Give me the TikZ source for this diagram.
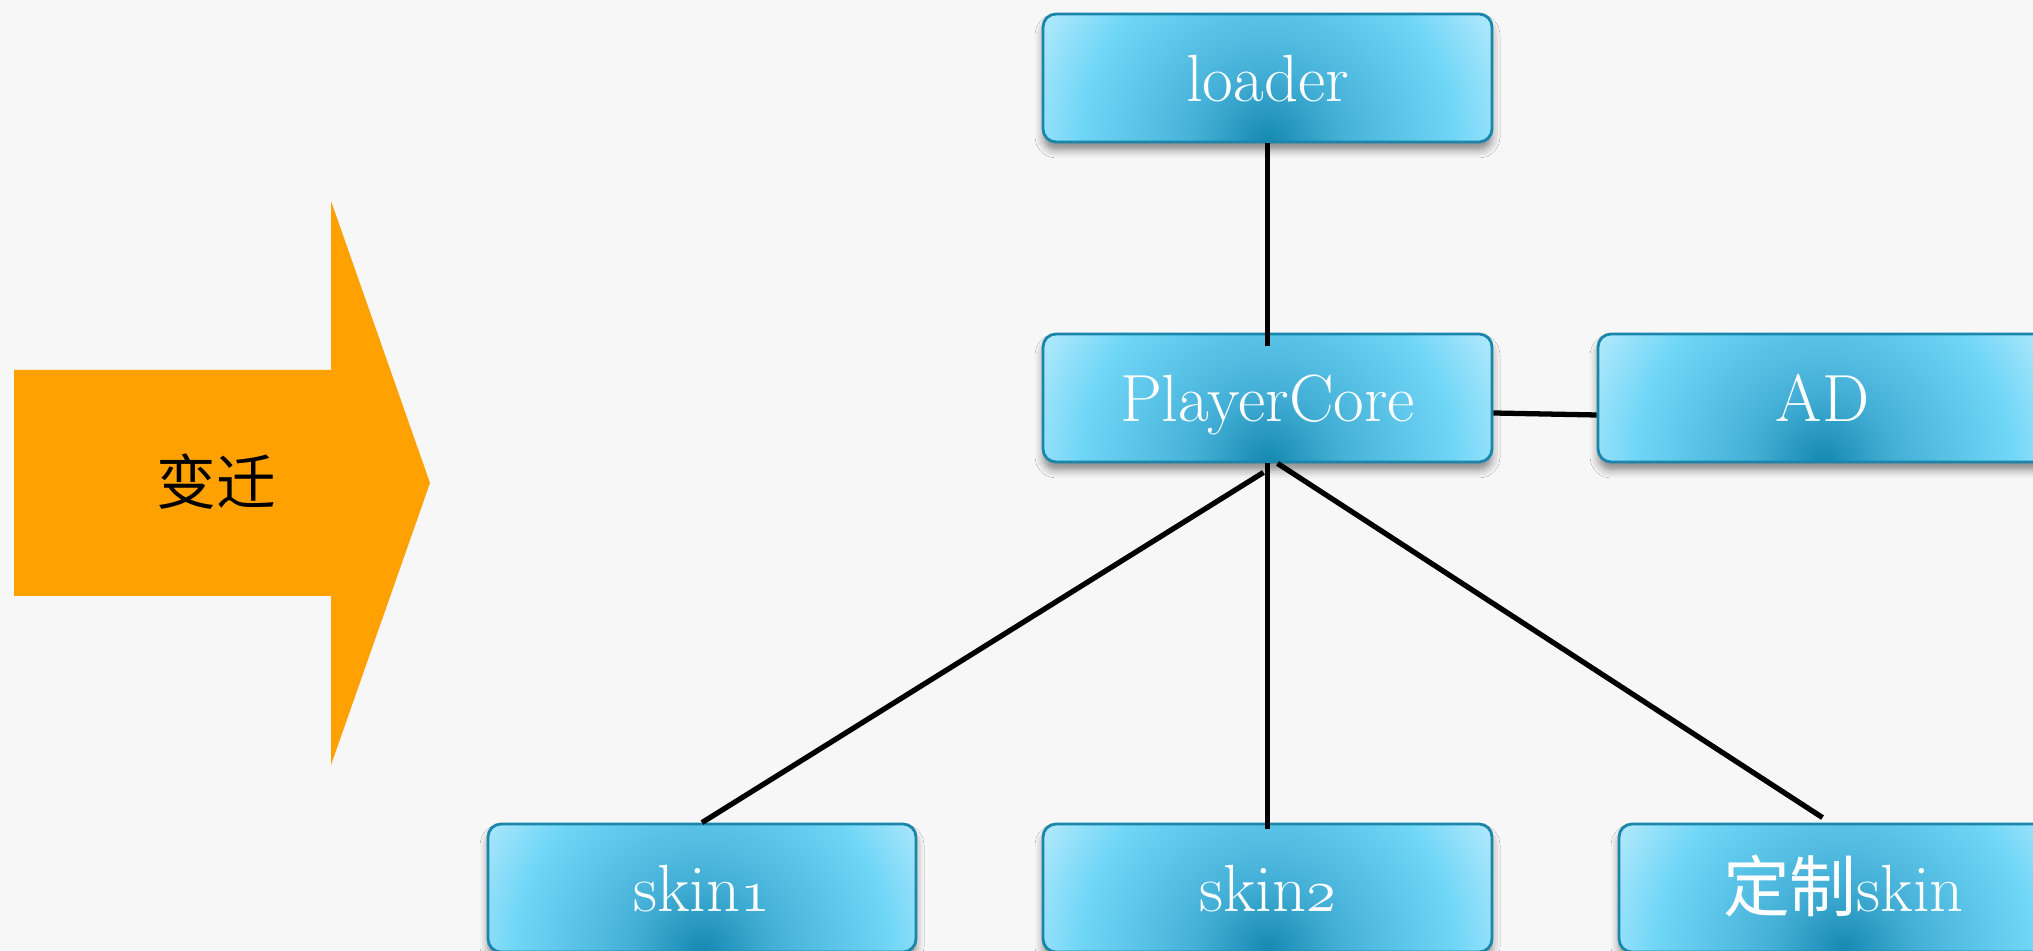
\documentclass[tikz,border=0pt]{standalone}
\usepackage{fontspec}
\newfontfamily\cjk{Noto Sans CJK SC}
\usetikzlibrary{shadows.blur}
\newcommand\osn[1]{{\usefont{OML}{cmm}{m}{it}#1}}

\definecolor{pagebg}{HTML}{F7F7F7}
\definecolor{arroworange}{HTML}{FFA100}
\definecolor{boxedge}{HTML}{1A86AB}
\definecolor{boxdeep}{HTML}{1589B1}
\definecolor{boxmid}{HTML}{45B0D7}
\definecolor{boxtop}{HTML}{5CC5E9}
\definecolor{boxlight}{HTML}{70D6F7}
\definecolor{boxpale}{HTML}{B5EAFC}
\pgfdeclareradialshading{boxglow}{\pgfpointorigin}{color(0bp)=(boxdeep); color(7bp)=(boxmid); color(13bp)=(boxtop); color(18bp)=(boxlight); color(25bp)=(boxpale); color(50bp)=(boxpale)}

\begin{document}
\begin{tikzpicture}[
		modbox/.style={rectangle, rounded corners=0.13cm, draw=boxedge, line width=0.8pt,
			minimum width=4.49cm, minimum height=1.28cm, inner sep=0pt, text=white,
			text height=0.47cm, text depth=0cm,
			font=\fontsize{19}{22}\selectfont,
			blur shadow={shadow xshift=0pt, shadow yshift=-0.08cm, shadow blur radius=0.08cm, shadow opacity=45},
			path picture={\shade[shading=boxglow] ([shift={(-2.6cm,-2.6cm)}]path picture bounding box.south) rectangle ++(5.2cm,5.2cm);}},
		link/.style={black, line width=1.5pt}]
			\useasboundingbox (0,0) rectangle (20.33,-9.51);
			\fill[pagebg] (0,0) rectangle (20.33,-9.51);
			
			% the orange arrow
			\fill[arroworange] (0.14,-3.70) -- (3.31,-3.70) -- (3.31,-2.01) -- (4.30,-4.83)
				-- (3.31,-7.65) -- (3.31,-5.96) -- (0.14,-5.96) -- cycle;
			\node[font=\cjk\fontsize{17}{20}\selectfont] (change) at (2.16,-4.82) {变迁};
			
			\node[modbox] (loader) at (12.675,-0.78) {loader};
			\node[modbox] (core) at (12.675,-3.98) {PlayerCore};
			\node[modbox] (ad) at (18.225,-3.98) {AD};
			\node[modbox, minimum width=4.28cm] (skinA) at (7.02,-8.88) {skin\osn{1}};
			\node[modbox] (skinB) at (12.675,-8.88) {skin\osn{2}};
			\node[modbox] (custom) at (18.435,-8.88) {{\cjk 定制}skin};
			
			\draw[link] (loader.south) -- ([yshift=-0.13cm]core.north);
			\draw[link] ([yshift=-0.15cm]core.east) -- ([yshift=-0.17cm]ad.west);
			\draw[link] ([xshift=-0.04cm,yshift=-0.09cm]core.south) -- (skinA.north);
			\draw[link] (core.south) -- ([yshift=-0.06cm]skinB.north);
			\draw[link] ([xshift=0.1cm]core.south) -- ([xshift=-0.21cm,yshift=0.05cm]custom.north);
		  \end{tikzpicture}
\end{document}
